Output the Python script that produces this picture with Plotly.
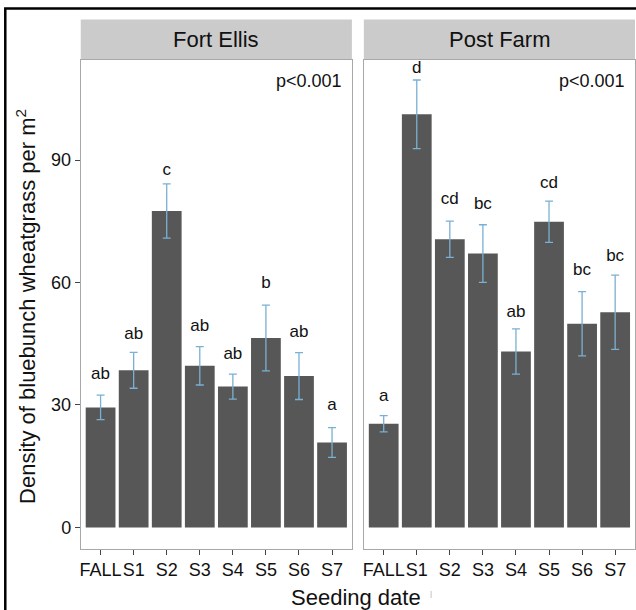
import plotly.graph_objects as go

W, H = 636, 610

categories = ["FALL", "S1", "S2", "S3", "S4", "S5", "S6", "S7"]
sites = ["Fort Ellis", "Post Farm"]

fe_mean = [29.4, 38.5, 77.5, 39.6, 34.5, 46.4, 37.1, 20.8]
fe_se = [3.0, 4.4, 6.65, 4.7, 3.05, 8.05, 5.75, 3.65]
fe_letters = ["ab", "ab", "c", "ab", "ab", "b", "ab", "a"]
fe_letter_y = [37.3, 47.3, 87.4, 49.2, 42.4, 59.6, 47.8, 29.9]

pf_mean = [25.4, 101.2, 70.6, 67.1, 43.1, 74.9, 49.9, 52.7]
pf_se = [2.0, 8.4, 4.45, 7.05, 5.55, 5.05, 7.85, 9.1]
pf_letters = ["a", "d", "cd", "bc", "ab", "cd", "bc", "bc"]
pf_letter_y = [32.0, 112.3, 80.3, 79.0, 52.6, 84.1, 62.8, 66.2]

p_text = "p<0.001"
y_ticks = [0, 30, 60, 90]

FONT = "Liberation Sans, Arial, sans-serif"
TXT = "#111111"
BAR = "#575757"
ERR = "#7ab0d3"
BORDER = "#a8a8a8"

def px_x(p):
    return p / W

def px_y(p):
    return 1 - p / H

panels = [(80, 352), (364, 636)]
ytop, ybot = 60, 548.5

fig = go.Figure()

data = [(fe_mean, fe_se, fe_letters, fe_letter_y), (pf_mean, pf_se, pf_letters, pf_letter_y)]
for i, (m, se, lets, ly) in enumerate(data):
    xa = "x" if i == 0 else "x2"
    ya = "y" if i == 0 else "y2"
    fig.add_trace(go.Bar(
        x=categories, y=m, xaxis=xa, yaxis=ya,
        marker=dict(color=BAR, line=dict(width=0)),
        error_y=dict(type="data", array=se, color=ERR, thickness=1.3, width=4),
        showlegend=False, hoverinfo="skip",
    ))
    fig.add_trace(go.Scatter(
        x=categories, y=ly, xaxis=xa, yaxis=ya, mode="text", text=lets,
        textfont=dict(family=FONT, size=17, color=TXT), textposition="middle center",
        cliponaxis=False, showlegend=False, hoverinfo="skip",
    ))
    fig.add_annotation(x=6.3, y=109.4, xref=xa, yref=ya, text=p_text, showarrow=False,
                       font=dict(family=FONT, size=18, color=TXT), xanchor="center", yanchor="middle")

yrange = [-5.15, 114.5]
axis_common = dict(
    type="category", range=[-0.6, 7.6], showgrid=False, zeroline=False,
    showline=True, mirror=True, linecolor=BORDER, linewidth=1,
    ticks="outside", ticklen=5, tickcolor="#444", tickwidth=1, tickangle=0,
    tickfont=dict(family=FONT, size=18, color=TXT),
    categoryorder="array", categoryarray=categories,
)
fig.update_layout(
    width=W, height=H, margin=dict(l=0, r=0, t=0, b=0),
    paper_bgcolor="white", plot_bgcolor="white", bargap=0.1,
    xaxis=dict(domain=[px_x(panels[0][0]), px_x(panels[0][1])], anchor="y", **axis_common),
    xaxis2=dict(domain=[px_x(panels[1][0]), px_x(panels[1][1])], anchor="y2", **axis_common),
    yaxis=dict(domain=[px_y(ybot), px_y(ytop)], anchor="x", range=yrange, showgrid=False, zeroline=False,
               showline=True, mirror=True, linecolor=BORDER, linewidth=1,
               ticks="outside", ticklen=5, tickcolor="#444", tickwidth=1,
               tickvals=y_ticks, tickfont=dict(family=FONT, size=18, color=TXT)),
    yaxis2=dict(domain=[px_y(ybot), px_y(ytop)], anchor="x2", range=yrange, showgrid=False, zeroline=False,
                showline=True, mirror=True, linecolor=BORDER, linewidth=1,
                showticklabels=False, ticks="", tickvals=y_ticks),
)

shapes = []
for (x0, x1), name in zip(panels, sites):
    shapes.append(dict(type="rect", xref="paper", yref="paper",
                       x0=px_x(x0), x1=px_x(x1), y0=px_y(ytop), y1=px_y(19.5),
                       fillcolor="#cbcbcb", line=dict(width=0), layer="below"))
    fig.add_annotation(x=px_x((x0 + x1) / 2), y=px_y(40), xref="paper", yref="paper",
                       text=name, showarrow=False, font=dict(family=FONT, size=22, color=TXT),
                       xanchor="center", yanchor="middle")
# outer black frame (top and left)
shapes.append(dict(type="path", xref="paper", yref="paper",
                   path=f"M {px_x(4.3)},{px_y(612)} L {px_x(4.3)},{px_y(8.5)} L {px_x(640)},{px_y(8.5)}",
                   line=dict(color="black", width=2.5)))
fig.update_layout(shapes=shapes)

fig.add_annotation(x=px_x(25), y=px_y(306), xref="paper", yref="paper",
                   text="Density of bluebunch wheatgrass per m<sup>2</sup>", textangle=-90,
                   showarrow=False, font=dict(family=FONT, size=22, color=TXT),
                   xanchor="center", yanchor="middle")
fig.add_annotation(x=px_x(356), y=px_y(597), xref="paper", yref="paper",
                   text="Seeding date", showarrow=False, font=dict(family=FONT, size=22, color=TXT),
                   xanchor="center", yanchor="middle")
fig.add_annotation(x=px_x(431), y=px_y(593), xref="paper", yref="paper",
                   text="|", showarrow=False, font=dict(family=FONT, size=8, color="#aaaaaa"),
                   xanchor="center", yanchor="middle")

fig.write_html("out.html", config={"displayModeBar": False},
               post_script="document.body.style.margin='0px';document.body.style.overflow='hidden';")
